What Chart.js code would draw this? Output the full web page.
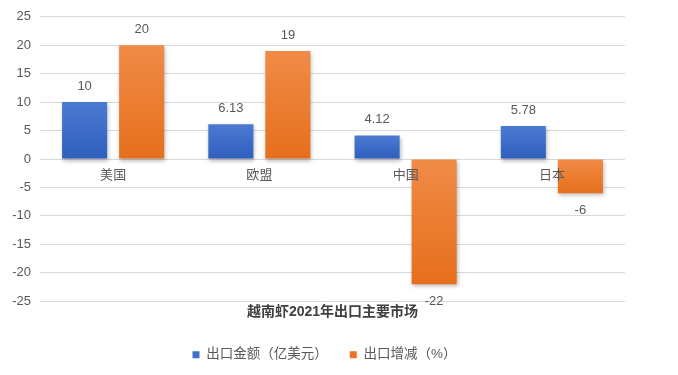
<!DOCTYPE html>
<html>
<head>
<meta charset="utf-8">
<script src="https://cdn.jsdelivr.net/npm/chart.js@4"></script>
<style>
  html, body { margin: 0; padding: 0; background: #fff; }
  #wrap { width: 678px; height: 375px; }
</style>
</head>
<body>
<div id="wrap"><canvas id="shrimpChart"></canvas></div>
<script>
const markets = ['美国', '欧盟', '中国', '日本'];
const exportValue = [10, 6.13, 4.12, 5.78];
const exportChange = [20, 19, -22, -6];
const valueLabels = ['10', '6.13', '4.12', '5.78'];
const changeLabels = ['20', '19', '-22', '-6'];

const FONT = '"Liberation Sans", "Noto Sans CJK SC", sans-serif';
const TEXT = '#595959';

// each bar gets its own light-top / dark-bottom fill
function barFill(light, dark) {
    return (c) => {
        const chart = c.chart;
        const y = chart.scales.y;
        if (!chart.chartArea || !y || c.parsed === undefined) return dark;
        const v = c.parsed.y;
        const top = y.getPixelForValue(Math.max(v, 0));
        const bottom = y.getPixelForValue(Math.min(v, 0));
        if (!isFinite(top) || !isFinite(bottom) || top === bottom) return dark;
        const g = chart.ctx.createLinearGradient(0, top, 0, bottom);
        g.addColorStop(0, light);
        g.addColorStop(1, dark);
        return g;
    };
}

// soft drop shadow under the bars
const barShadow = {
    id: 'barShadow',
    beforeDatasetsDraw(chart) {
        const ctx = chart.ctx;
        ctx.save();
        ctx.shadowColor = 'rgba(0, 0, 0, 0.28)';
        ctx.shadowBlur = 4;
        ctx.shadowOffsetX = 1;
        ctx.shadowOffsetY = 2;
    },
    afterDatasetsDraw(chart) {
        chart.ctx.restore();
    }
};

// value labels above / below each bar
const barLabels = {
    id: 'barLabels',
    afterDatasetsDraw(chart) {
        const ctx = chart.ctx;
        const texts = [valueLabels, changeLabels];
        ctx.save();
        ctx.font = '13px ' + FONT;
        ctx.fillStyle = TEXT;
        ctx.textAlign = 'center';
        ctx.textBaseline = 'middle';
        chart.data.datasets.forEach((ds, i) => {
            chart.getDatasetMeta(i).data.forEach((bar, j) => {
                const v = ds.data[j];
                const y = v >= 0 ? bar.y - 16 : bar.y + 17;
                ctx.fillText(texts[i][j], bar.x, y);
            });
        });
        ctx.restore();
    }
};

// nudge the legend a little to the right, like the original
const legendNudge = {
    id: 'legendNudge',
    afterLayout(chart) {
        if (!chart.legend) return;
        chart.legend.left += 11;
        chart.legend.right += 11;
    }
};

new Chart(document.getElementById('shrimpChart'), {
    type: 'bar',
    data: {
        labels: markets,
        datasets: [{
            label: '出口金额（亿美元）',
            data: exportValue,
            backgroundColor: barFill('#4c7ad2', '#2f5ebd'),
            categoryPercentage: 0.78,
            barPercentage: 0.79
        }, {
            label: '出口增减（%）',
            data: exportChange,
            backgroundColor: barFill('#f08b47', '#e66f1c'),
            categoryPercentage: 0.78,
            barPercentage: 0.79
        }]
    },
    options: {
        responsive: true,
        maintainAspectRatio: false,
        animation: false,
        layout: { padding: { top: 8, right: 53, left: 2, bottom: 3.5 } },
        plugins: {
            legend: {
                position: 'bottom',
                weight: 3000,
                labels: {
                    boxWidth: 7,
                    boxHeight: 7,
                    padding: 22,
                    color: TEXT,
                    font: { family: FONT, size: 13.5 },
                    generateLabels(chart) {
                        const base = Chart.defaults.plugins.legend.labels.generateLabels(chart);
                        const solid = ['#3f6fc8', '#ec7424'];
                        base.forEach((item, i) => {
                            item.fillStyle = solid[i];
                            item.strokeStyle = solid[i];
                            item.lineWidth = 0;
                        });
                        return base;
                    }
                }
            },
            title: {
                display: true,
                text: '越南虾2021年出口主要市场',
                position: 'bottom',
                weight: 1000,
                fullSize: false,
                color: '#404040',
                padding: { top: 3, bottom: 5 },
                font: { family: FONT, size: 14, weight: 'bold' }
            },
            tooltip: { enabled: false }
        },
        scales: {
            x: {
                position: { y: 0 },
                grid: { display: false, drawTicks: false },
                border: { display: false },
                ticks: { z: 1, color: TEXT, padding: 9, font: { family: FONT, size: 13 } }
            },
            y: {
                min: -25,
                max: 25,
                afterFit: s => { s.width = 38; },
                grid: { color: '#d9d9d9', drawTicks: false },
                border: { display: false },
                ticks: { stepSize: 5, color: TEXT, padding: 9, font: { family: FONT, size: 13 } }
            }
        }
    },
    plugins: [barShadow, barLabels, legendNudge]
});
</script>
</body>
</html>
